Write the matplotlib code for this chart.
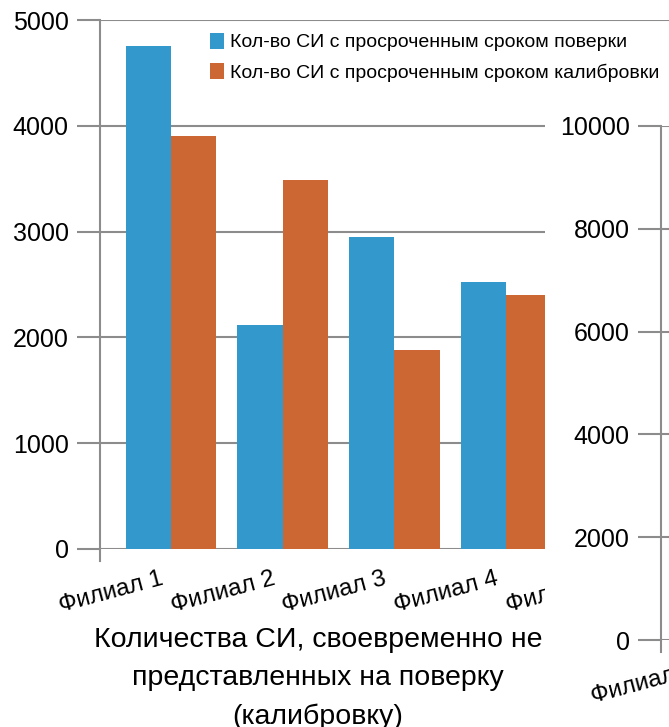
import matplotlib
matplotlib.use("Agg")
import matplotlib.pyplot as plt
import matplotlib.transforms as mtransforms
from matplotlib.patches import Rectangle
import numpy as np

# data
branches = ["Филиал 1", "Филиал 2", "Филиал 3", "Филиал 4", "Филиал 5"]
verification = [4750, 2120, 2950, 2520]
calibration = [3900, 3490, 1880, 2400]
left_ticks = [0, 1000, 2000, 3000, 4000, 5000]

right_branches = ["Филиал 1", "Филиал 2", "Филиал 3", "Филиал 4", "Филиал 5"]
right_ticks = [0, 2000, 4000, 6000, 8000, 10000]

legend_labels = ["Кол-во СИ с просроченным сроком поверки",
                 "Кол-во СИ с просроченным сроком калибровки"]
title = "Количества СИ, своевременно не\nпредставленных на поверку\n(калибровку)"

BLUE = "#3399cc"
ORANGE = "#cc6633"
GRAY = "#8c8c8c"

W, H = 669, 727
STEP = 111.7  # pixels per category


def px_box(x0, y0, x1, y1):
    # pixel box (top-left origin) -> figure fraction rect
    return [x0 / W, 1 - y1 / H, (x1 - x0) / W, (y1 - y0) / H]


def style_value_axis(ax, ticks, ymax, height_px):
    ax.set_ylim(0, ymax)
    ax.set_yticks(ticks)
    ax.yaxis.grid(True, color=GRAY, linewidth=1.5)
    ax.set_axisbelow(True)
    for side in ("top", "right", "bottom"):
        ax.spines[side].set_visible(False)
    ax.spines["left"].set_color(GRAY)
    ax.spines["left"].set_linewidth(1.5)
    ax.tick_params(axis="y", length=16.5, width=1.5, color=GRAY, pad=6,
                   labelsize=18)
    ax.tick_params(axis="x", length=0, pad=4, labelsize=17.5)
    # axis line runs a little below zero
    ax.plot([0, 0], [0, -12 / height_px], transform=ax.transAxes,
            clip_on=False, color=GRAY, linewidth=1.5)


def category_labels(ax, names):
    ax.set_xticks(np.arange(len(names)))
    ax.set_xticklabels(names, rotation=15, ha="right", rotation_mode="anchor")
    shift = mtransforms.ScaledTranslation(-0.11, -0.13, fig.dpi_scale_trans)
    for lab in ax.get_xticklabels():
        lab.set_transform(lab.get_transform() + shift)


plt.rcParams["font.family"] = ["Liberation Sans", "DejaVu Sans"]

fig = plt.figure(figsize=(W / 100, H / 100), dpi=100)

# left chart
ax = fig.add_axes(px_box(100, 20, 700, 549))
x = np.arange(len(branches))
bw = 0.405
n = len(verification)
ax.bar(x[:n] - bw / 2, verification, bw, color=BLUE, label=legend_labels[0])
ax.bar(x[:n] + bw / 2, calibration, bw, color=ORANGE, label=legend_labels[1])
ax.set_xlim((100 - 171) / STEP, (700 - 171) / STEP)
style_value_axis(ax, left_ticks, 5000, 529)
category_labels(ax, branches)
ax.legend(loc="upper left", bbox_to_anchor=(210 / W, 1 - 33 / H),
          bbox_transform=fig.transFigure, frameon=False, fontsize=14,
          handlelength=0.7, handleheight=0.85, handletextpad=0.35,
          labelspacing=0.6, borderpad=0, borderaxespad=0)

fig.text(318 / W, 1 - 678.5 / H, title, ha="center", va="center",
         fontsize=20.5, linespacing=1.62, zorder=1)

# the second chart sits on top of the first one
fig.add_artist(Rectangle((545 / W, 0), 1, 1 - 100 / H,
                         transform=fig.transFigure, facecolor="white",
                         edgecolor="none", zorder=1.5))

ax2 = fig.add_axes(px_box(661, 126, 1100, 640))
ax2.set_zorder(2)
left_lim = -(708 - 661) / STEP
ax2.set_xlim(left_lim, left_lim + (1100 - 661) / STEP)
style_value_axis(ax2, right_ticks, 10000, 514)
category_labels(ax2, right_branches)

fig.savefig("out.png", dpi=100)
